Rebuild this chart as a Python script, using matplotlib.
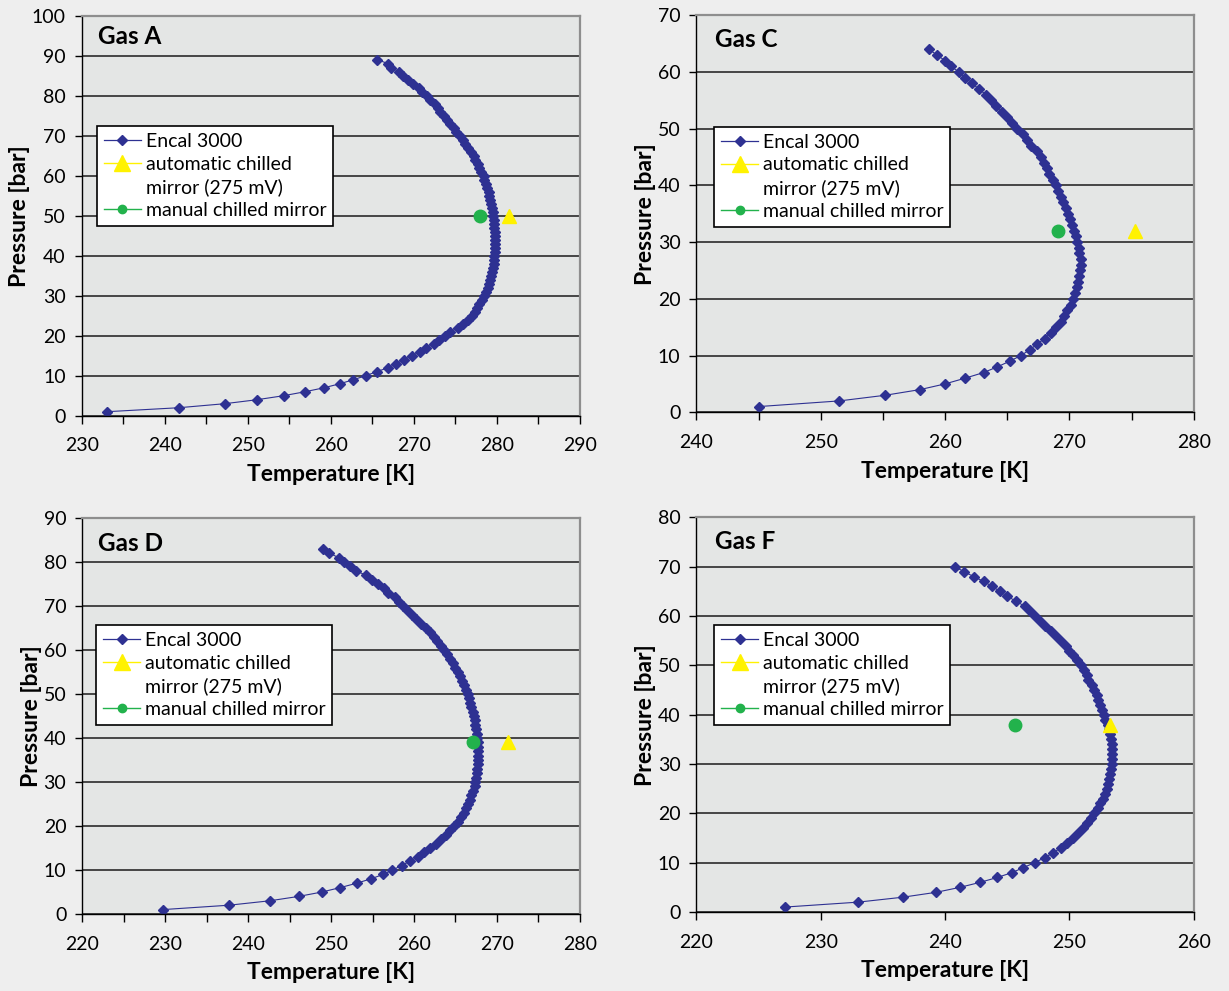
import matplotlib.pyplot as plt
from matplotlib.lines import Line2D
from matplotlib.ticker import MultipleLocator

plt.rcParams['font.family'] = ['Lato', 'DejaVu Sans']

# Encal 3000 phase envelopes: one point per bar of pressure
p_a = list(range(1, 90))
t_a = [233.0, 241.7, 247.2, 251.1, 254.3, 256.9, 259.2, 261.1, 262.7, 264.2,
       265.5, 266.9, 267.9, 268.8, 269.8, 270.7, 271.5, 272.4, 273.0, 273.7,
       274.4, 275.3, 275.9, 276.5, 277.0, 277.3, 277.6, 277.8, 278.2, 278.4,
       278.7, 278.9, 279.1, 279.2, 279.3, 279.4, 279.5, 279.6, 279.7, 279.7,
       279.8, 279.8, 279.8, 279.8, 279.8, 279.8, 279.7, 279.7, 279.6, 279.5,
       279.5, 279.4, 279.3, 279.2, 279.1, 279.0, 278.8, 278.7, 278.5, 278.4,
       278.1, 277.9, 277.7, 277.4, 277.2, 276.9, 276.5, 276.2, 275.9, 275.5,
       275.1, 274.8, 274.4, 274.0, 273.6, 273.2, 272.9, 272.5, 272.0, 271.6,
       271.0, 270.6, 269.9, 269.3, 268.7, 268.2, 267.3, 266.9, 265.6]

p_c = list(range(1, 65))
t_c = [245.0, 251.5, 255.2, 258.0, 260.0, 261.6, 263.1, 264.2, 265.2, 266.1,
       266.8, 267.4, 268.0, 268.5, 268.9, 269.3, 269.6, 269.8, 270.1, 270.3,
       270.45, 270.6, 270.7, 270.8, 270.85, 270.9, 270.9, 270.8, 270.75, 270.65,
       270.5, 270.4, 270.2, 270.05, 269.9, 269.7, 269.5, 269.35, 269.1, 268.9,
       268.65, 268.4, 268.2, 267.95, 267.7, 267.4, 266.9, 266.6, 266.3, 265.8,
       265.4, 265.0, 264.6, 264.1, 263.7, 263.3, 262.7, 262.2, 261.6, 261.1,
       260.5, 260.0, 259.35, 258.7]

p_d = list(range(1, 84))
t_d = [229.7, 237.7, 242.6, 246.1, 248.9, 251.1, 253.1, 254.8, 256.3, 257.4,
       258.5, 259.5, 260.5, 261.2, 261.9, 262.6, 263.2, 263.9, 264.3, 264.8,
       265.3, 265.7, 266.0, 266.3, 266.5, 266.7, 266.9, 267.1, 267.3, 267.4,
       267.5, 267.6, 267.6, 267.7, 267.7, 267.7, 267.7, 267.7, 267.7, 267.6,
       267.6, 267.5, 267.4, 267.3, 267.2, 267.1, 266.9, 266.8, 266.6, 266.5,
       266.3, 266.0, 265.8, 265.5, 265.3, 265.0, 264.7, 264.3, 264.0, 263.6,
       263.2, 262.8, 262.4, 261.9, 261.4, 260.9, 260.3, 259.8, 259.2, 258.7,
       258.2, 257.7, 256.9, 256.4, 255.7, 254.9, 254.2, 253.0, 252.3, 251.6,
       250.9, 249.8, 249.0]

p_f = list(range(1, 71))
t_f = [227.1, 233.0, 236.6, 239.3, 241.2, 242.8, 244.2, 245.4, 246.3, 247.2,
       248.0, 248.7, 249.3, 249.8, 250.3, 250.7, 251.1, 251.4, 251.7, 252.0,
       252.3, 252.5, 252.7, 252.9, 253.0, 253.1, 253.2, 253.3, 253.35, 253.4,
       253.45, 253.45, 253.45, 253.4, 253.35, 253.3, 253.2, 253.1, 252.9, 252.8,
       252.6, 252.5, 252.3, 252.2, 252.0, 251.8, 251.5, 251.4, 251.2, 250.9,
       250.6, 250.3, 250.0, 249.7, 249.3, 248.9, 248.5, 248.0, 247.6, 247.2,
       246.8, 246.4, 245.7, 245.0, 244.4, 243.8, 243.1, 242.3, 241.5, 240.8]

# chilled mirror measurements (T [K], p [bar])
auto_a, manual_a = (281.4, 50.0), (278.0, 50.0)
auto_c, manual_c = (275.3, 32.0), (269.1, 32.0)
auto_d, manual_d = (271.3, 39.0), (267.1, 39.2)
auto_f, manual_f = (253.3, 38.0), (245.6, 38.0)

NAVY = '#2e3192'
YELLOW = '#fff200'
GREEN = '#22b24c'

fig = plt.figure(figsize=(12.29, 9.91), dpi=100, facecolor='#eeeeee')


def panel(rect, name, t, p, auto, manual, xlim, ylim, minor_x, title_xy, leg_xy):
    ax = fig.add_axes(rect)
    ax.set_facecolor('#e4e6e5')
    ax.plot(t, p, color=NAVY, lw=0.8, marker='D', ms=4.6, mec=NAVY, mfc=NAVY)
    ax.plot([auto[0]], [auto[1]], color=YELLOW, lw=1, marker='^', ms=10, mec=YELLOW, zorder=4)
    ax.plot([manual[0]], [manual[1]], color=GREEN, lw=1, marker='o', ms=9, mec=GREEN, zorder=4)

    ax.set_xlim(*xlim)
    ax.set_ylim(*ylim)
    ax.xaxis.set_major_locator(MultipleLocator(10))
    ax.yaxis.set_major_locator(MultipleLocator(10))
    if minor_x:
        ax.xaxis.set_minor_locator(MultipleLocator(5))
    ax.yaxis.grid(True, color='#1a1a1a', lw=1.1)
    ax.set_axisbelow(True)

    for s in ['left', 'bottom']:
        ax.spines[s].set_color('black')
        ax.spines[s].set_linewidth(1.0)
    for s in ['top', 'right']:
        ax.spines[s].set_color('#8e8e8e')
        ax.spines[s].set_linewidth(1.6)

    ax.tick_params(axis='x', which='both', direction='out', length=5.5, width=1,
                   labelsize=14, pad=10)
    ax.tick_params(axis='y', direction='out', length=5, width=1, labelsize=14, pad=6.5)

    ax.set_xlabel('Temperature [K]', fontsize=16.5, fontweight='bold', labelpad=7)
    ax.set_ylabel('Pressure [bar]', fontsize=16.5, fontweight='bold', labelpad=1.5)
    ax.text(title_xy[0], title_xy[1], name, transform=ax.transAxes, fontsize=17.5,
            fontweight='bold', ha='left', va='center')

    handles = [
        Line2D([], [], color=NAVY, lw=0.9, marker='D', ms=5),
        Line2D([], [], color=YELLOW, lw=1, marker='^', ms=11),
        Line2D([], [], linestyle='none'),
        Line2D([], [], color=GREEN, lw=1, marker='o', ms=6),
    ]
    labels = ['Encal 3000', 'automatic chilled', 'mirror (275 mV)', 'manual chilled mirror']
    leg = ax.legend(handles, labels, loc='upper left', bbox_to_anchor=leg_xy,
                    fontsize=14, frameon=True, fancybox=False, framealpha=1,
                    edgecolor='black', borderpad=0.35, labelspacing=0.3,
                    handlelength=1.9, handletextpad=0.25, borderaxespad=0)
    leg.get_frame().set_linewidth(1.2)
    return ax


panel([0.0665, 0.5805, 0.4054, 0.4037], 'Gas A', t_a, p_a, auto_a, manual_a,
      (230, 290), (0, 100), True, (0.032, 0.949), (0.031, 0.724))
panel([0.5666, 0.5840, 0.4047, 0.4006], 'Gas C', t_c, p_c, auto_c, manual_c,
      (240, 280), (0, 70), True, (0.038, 0.938), (0.036, 0.719))
panel([0.0670, 0.0777, 0.4048, 0.3996], 'Gas D', t_d, p_d, auto_d, manual_d,
      (220, 280), (0, 90), True, (0.032, 0.936), (0.028, 0.730))
panel([0.5666, 0.0797, 0.4047, 0.3983], 'Gas F', t_f, p_f, auto_f, manual_f,
      (220, 260), (0, 80), False, (0.038, 0.938), (0.036, 0.727))

fig.savefig('out.png', dpi=100, facecolor=fig.get_facecolor())
